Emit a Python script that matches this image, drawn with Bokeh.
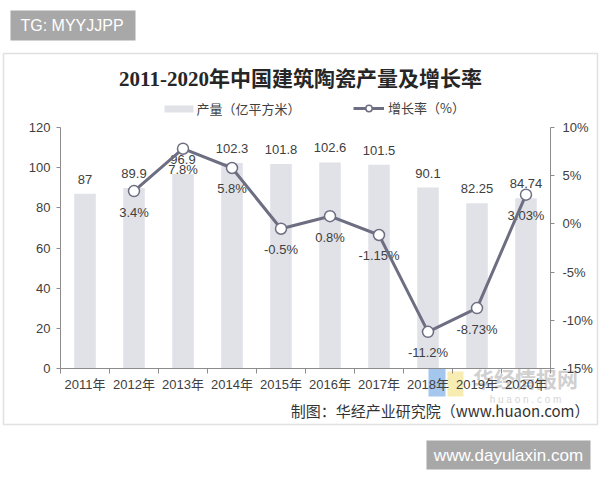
from bokeh.plotting import figure
from bokeh.models import (Range1d, LinearAxis, FixedTicker, PrintfTickFormatter,
                          Label, LabelSet, BoxAnnotation, Legend, LegendItem, ColumnDataSource)
from bokeh.core.properties import value
from bokeh.embed import file_html
from bokeh.resources import INLINE

# ---- data ----
years = ["2011年", "2012年", "2013年", "2014年", "2015年", "2016年", "2017年", "2018年", "2019年", "2020年"]
production = [87, 89.9, 96.9, 102.3, 101.8, 102.6, 101.5, 90.1, 82.25, 84.74]
production_labels = ["87", "89.9", "96.9", "102.3", "101.8", "102.6", "101.5", "90.1", "82.25", "84.74"]
growth_years = ["2012年", "2013年", "2014年", "2015年", "2016年", "2017年", "2018年", "2019年", "2020年"]
growth = [3.4, 7.8, 5.8, -0.5, 0.8, -1.15, -11.2, -8.73, 3.03]
growth_labels = ["3.4%", "7.8%", "5.8%", "-0.5%", "0.8%", "-1.15%", "-11.2%", "-8.73%", "3.03%"]
left_ticks = [0, 20, 40, 60, 80, 100, 120]
right_ticks = [-15, -10, -5, 0, 5, 10]
series_names = ["产量（亿平方米）", "增长率（%）"]

TXT = "#404040"
LATIN = "Liberation Sans, Noto Sans CJK SC"
CJK = "Noto Sans CJK SC"
TITLE_FONT = "Liberation Serif, Noto Sans CJK SC"
BAR = "#e0e2e8"
LINE = "#6e6e82"
AXIS = "#8c8c8c"

# plot-area geometry (canvas px); the frame spans the whole canvas
W, H = 600, 480
FL, FR, FT, FB = 60, 550, 127, 368
N = len(years)
YMIN, YMAX = left_ticks[0], left_ticks[-1]
PMIN, PMAX = right_ticks[0], right_ticks[-1]

kx = (FR - FL) / N
ky = (FB - FT) / (YMAX - YMIN)
kp = (FB - FT) / (PMAX - PMIN)

pos = {y: i + 0.5 for i, y in enumerate(years)}
xs = [pos[y] for y in years]
gx = [pos[y] for y in growth_years]

p = figure(width=W, height=H, output_backend="svg", toolbar_location=None,
           x_range=Range1d(-FL / kx, N + (W - FR) / kx),
           y_range=Range1d(YMIN - (H - FB) / ky, YMAX + FT / ky),
           x_axis_type=None, y_axis_type=None,
           min_border=0, min_border_left=0, min_border_right=0,
           min_border_top=0, min_border_bottom=0)
p.extra_y_ranges = {"pct": Range1d(PMIN - (H - FB) / kp, PMAX + FT / kp)}
p.outline_line_color = None
p.xgrid.visible = False
p.ygrid.visible = False
p.background_fill_color = "white"
p.border_fill_color = "white"


def style_axis(ax):
    ax.axis_line_color = AXIS
    ax.axis_line_width = 1
    ax.major_tick_line_color = AXIS
    ax.minor_tick_line_color = None
    ax.major_label_text_color = TXT
    ax.major_label_text_font = LATIN
    ax.major_label_text_font_size = "13px"


ly = LinearAxis(ticker=FixedTicker(ticks=left_ticks), fixed_location=0, bounds=(YMIN, YMAX))
style_axis(ly)
ly.major_tick_out = 4
ly.major_tick_in = 0
ly.major_label_standoff = 6
p.add_layout(ly, "left")

ry = LinearAxis(y_range_name="pct", ticker=FixedTicker(ticks=right_ticks),
                formatter=PrintfTickFormatter(format="%d%%"), fixed_location=N,
                bounds=(PMIN, PMAX))
style_axis(ry)
ry.major_tick_out = 4
ry.major_tick_in = 0
ry.major_label_standoff = 8
p.add_layout(ry, "right")

bx = LinearAxis(ticker=FixedTicker(ticks=xs, minor_ticks=list(range(N + 1))),
                major_label_overrides={pos[y]: y for y in years},
                fixed_location=YMIN, bounds=(0, N))
style_axis(bx)
bx.major_tick_line_color = None
bx.major_tick_out = 0
bx.major_tick_in = 0
bx.minor_tick_line_color = AXIS
bx.minor_tick_out = 5
bx.minor_tick_in = 0
bx.major_label_standoff = 3
p.add_layout(bx, "below")

# bars
bars = p.vbar(x=xs, top=production, width=0.44, fill_color=BAR, line_color=None)

bsrc = ColumnDataSource(dict(x=xs, y=production, t=production_labels))
p.add_layout(LabelSet(x="x", y="y", text="t", source=bsrc, y_offset=14.5,
                      text_align="center", text_baseline="middle",
                      text_font=value(LATIN), text_font_size="13px", text_color=TXT))

gsrc = ColumnDataSource(dict(x=gx, y=growth, t=growth_labels))
p.add_layout(LabelSet(x="x", y="y", text="t", source=gsrc, y_range_name="pct", y_offset=-21,
                      text_align="center", text_baseline="middle",
                      text_font=value(LATIN), text_font_size="13px", text_color=TXT))

line = p.line(x=gx, y=growth, y_range_name="pct", line_color=LINE, line_width=3)
dots = p.scatter(x=gx, y=growth, y_range_name="pct", size=11, marker="circle",
                 fill_color="white", line_color=LINE, line_width=1.5)
line.level = "overlay"
dots.level = "overlay"


# helpers: canvas px (top-left origin) -> screen units (bottom-left origin)
def sx(cx):
    return cx


def sy(cy):
    return H - cy


SCR = dict(left_units="screen", right_units="screen", top_units="screen", bottom_units="screen")

# legend: bar key drawn as the thin band of the reference, line key via Legend
p.add_layout(BoxAnnotation(left=sx(164), right=sx(193), top=sy(105), bottom=sy(112),
                           fill_color=BAR, fill_alpha=1, line_color=None, **SCR))
p.add_layout(Label(x=sx(196), y=sy(108), x_units="screen", y_units="screen",
                   text=series_names[0], text_align="left", text_baseline="middle",
                   text_font=CJK, text_font_size="13px", text_color=TXT))
legend = Legend(items=[LegendItem(label=series_names[1], renderers=[line, dots])],
                orientation="horizontal", location=(sx(353), sy(117)),
                padding=0, margin=0, spacing=0, label_standoff=4,
                glyph_width=31, glyph_height=16, label_height=16,
                border_line_color=None, background_fill_alpha=0,
                label_text_font=CJK, label_text_font_size="13px", label_text_color=TXT)
p.add_layout(legend, "center")

# title
p.add_layout(Label(x=sx(300), y=sy(78), x_units="screen", y_units="screen",
                   text="2011-2020年中国建筑陶瓷产量及增长率", text_align="center",
                   text_baseline="middle", text_font=TITLE_FONT, text_font_size="21px",
                   text_font_style="bold", text_color="#262626"))

# source
p.add_layout(Label(x=sx(589), y=sy(410), x_units="screen", y_units="screen",
                   text="制图：华经产业研究院（www.huaon.com）", text_align="right",
                   text_baseline="middle", text_font=CJK, text_font_size="15px",
                   text_color="#333333"))

# faint huaon watermark
p.add_layout(BoxAnnotation(left=sx(428), right=sx(445), top=sy(368), bottom=sy(396),
                           fill_color="#8fb8e8", fill_alpha=0.8, line_color=None,
                           level="underlay", **SCR))
p.add_layout(BoxAnnotation(left=sx(447), right=sx(463), top=sy(371), bottom=sy(396),
                           fill_color="#f5e9a0", fill_alpha=0.8, line_color=None,
                           level="underlay", **SCR))
p.add_layout(Label(x=sx(525), y=sy(377), x_units="screen", y_units="screen",
                   text="华经情报网", text_align="center", text_baseline="middle",
                   text_font=CJK, text_font_size="21px", text_font_style="bold",
                   text_color="#c4c4c4", text_alpha=0.8, level="underlay"))
p.add_layout(Label(x=sx(525), y=sy(399), x_units="screen", y_units="screen",
                   text="h u a o n . c o m", text_align="center", text_baseline="middle",
                   text_font=LATIN, text_font_size="10px", text_color="#d6d6d6",
                   level="underlay"))

# outer frame border
p.add_layout(BoxAnnotation(left=sx(3), right=sx(597), top=sy(53), bottom=sy(424),
                           fill_alpha=0, line_color="#9a9a9a", line_width=1.5, **SCR))

# grey tag boxes
p.add_layout(BoxAnnotation(left=sx(10), right=sx(135), top=sy(10), bottom=sy(40),
                           fill_color="#a8a8a8", fill_alpha=1, line_color=None, **SCR))
p.add_layout(Label(x=sx(20), y=sy(25), x_units="screen", y_units="screen",
                   text="TG: MYYJJPP", text_align="left", text_baseline="middle",
                   text_font=LATIN, text_font_size="16px", text_color="white"))
p.add_layout(BoxAnnotation(left=sx(426), right=sx(590), top=sy(440), bottom=sy(469),
                           fill_color="#a8a8a8", fill_alpha=1, line_color=None, **SCR))
p.add_layout(Label(x=sx(508), y=sy(454.5), x_units="screen", y_units="screen",
                   text="www.dayulaxin.com", text_align="center", text_baseline="middle",
                   text_font=LATIN, text_font_size="17px", text_color="white"))

open("out.html", "w").write(file_html(p, INLINE))
